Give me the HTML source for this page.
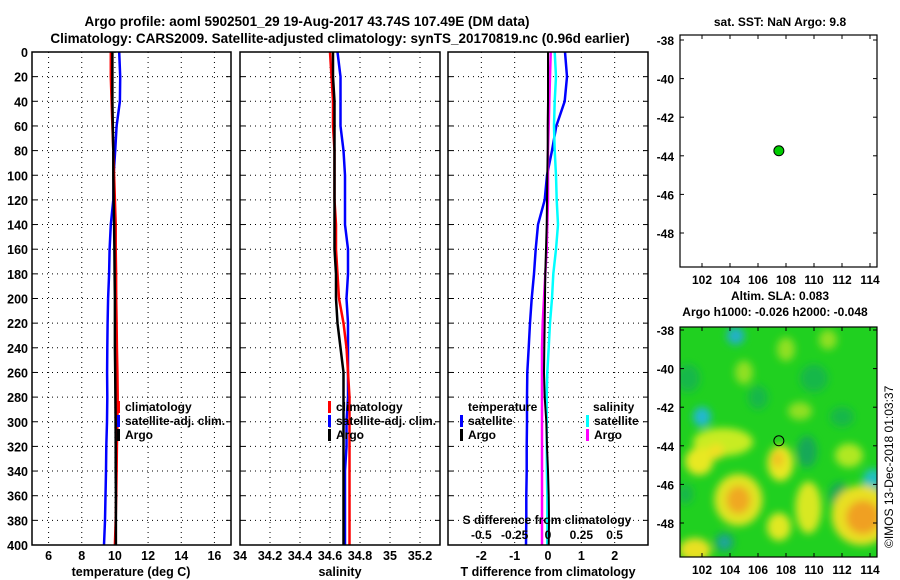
<!DOCTYPE html>
<html><head><meta charset="utf-8">
<style>
body{margin:0;background:#fff;}
svg{display:block;font-family:"Liberation Sans",sans-serif;font-weight:bold;}
</style></head>
<body>
<svg id="c" width="900" height="580" viewBox="0 0 900 580">
<text x="307" y="26" font-size="13.5" text-anchor="middle">Argo profile: aoml 5902501_29 19-Aug-2017 43.74S 107.49E (DM data)</text>
<text x="340" y="43" font-size="13.5" text-anchor="middle">Climatology: CARS2009. Satellite-adjusted climatology: synTS_20170819.nc (0.96d earlier)</text>
<text x="131" y="576" font-size="12.5" text-anchor="middle">temperature (deg C)</text>
<text x="340" y="576" font-size="12.5" text-anchor="middle">salinity</text>
<text x="548" y="576" font-size="12.5" text-anchor="middle">T difference from climatology</text>
<text x="780" y="26" font-size="12" text-anchor="middle">sat. SST: NaN Argo: 9.8</text>
<text x="780" y="300" font-size="12" text-anchor="middle">Altim. SLA: 0.083</text>
<text x="775" y="316" font-size="12" text-anchor="middle">Argo h1000: -0.026 h2000: -0.048</text>
<text transform="translate(893,548) rotate(-90)" font-size="12" font-weight="normal">©IMOS 13-Dec-2018 01:03:37</text>
</svg>
<script>
const depths=[0,20,40,60,80,100,120,140,160,180,200,220,240,260,280,300,320,340,360,380,400];
const tempArgo=[9.85,9.85,9.85,9.87,9.9,9.9,9.92,9.95,9.97,9.98,10.0,10.0,10.0,10.02,10.03,10.04,10.05,10.05,10.06,10.06,10.06];
const tempClim=[9.75,9.75,9.8,9.85,9.9,9.95,10.0,10.05,10.05,10.07,10.08,10.1,10.12,10.15,10.17,10.15,10.12,10.1,10.08,10.05,10.0];
const tempSat=[10.26,10.32,10.3,10.1,10.02,9.92,9.9,9.75,9.68,9.65,9.59,9.56,9.54,9.53,9.54,9.52,9.48,9.46,9.43,9.40,9.34];
const salArgo=[34.62,34.62,34.63,34.63,34.63,34.63,34.63,34.63,34.63,34.64,34.64,34.65,34.67,34.69,34.69,34.69,34.69,34.69,34.69,34.69,34.69];
const salClim=[34.60,34.61,34.62,34.62,34.63,34.63,34.63,34.64,34.64,34.65,34.66,34.69,34.71,34.72,34.73,34.73,34.73,34.73,34.73,34.73,34.73];
const salSat=[34.65,34.67,34.67,34.67,34.69,34.70,34.70,34.70,34.72,34.72,34.71,34.72,34.72,34.72,34.72,34.71,34.71,34.70,34.70,34.70,34.70];
const tDiffSat=[0.51,0.57,0.50,0.25,0.12,-0.03,-0.10,-0.30,-0.37,-0.42,-0.49,-0.54,-0.58,-0.62,-0.63,-0.63,-0.64,-0.64,-0.65,-0.65,-0.66];
const tDiffArgo=[0,0,0,-0.01,-0.01,-0.02,-0.03,-0.04,-0.06,-0.08,-0.09,-0.1,-0.11,-0.12,-0.1,-0.05,-0.03,0.0,0.02,0.03,0.02];
const sDiffSat=[0.05,0.06,0.05,0.045,0.05,0.06,0.065,0.075,0.06,0.04,0.03,0.015,0.005,-0.005,-0.01,-0.01,-0.01,-0.008,-0.005,-0.005,-0.005];
const sDiffArgo=[0.02,0.015,0.01,0.005,0,0,0,-0.005,-0.01,-0.02,-0.03,-0.04,-0.045,-0.045,-0.045,-0.045,-0.045,-0.045,-0.045,-0.045,-0.045];
const depthTicks=[0,20,40,60,80,100,120,140,160,180,200,220,240,260,280,300,320,340,360,380,400];
const tempTicks=[6,8,10,12,14,16];
const salTicks=[34,34.2,34.4,34.6,34.8,35,35.2];
const salTickLabels=["34","34.2","34.4","34.6","34.8","35","35.2"];
const tdTicks=[-2,-1,0,1,2];
const sdTicks=[-0.5,-0.25,0,0.25,0.5];
const latTicks=[-38,-40,-42,-44,-46,-48];
const lonTicks=[102,104,106,108,110,112,114];
const argoLon=107.49, argoLat=-43.74;

const S=document.getElementById('c');
const NS='http://www.w3.org/2000/svg';
function mk(tag,attrs,parent){const e=document.createElementNS(NS,tag);for(const k in attrs)e.setAttribute(k,attrs[k]);(parent||S).appendChild(e);return e;}
const Y0=52,Y1=545;
const yD=d=>Y0+d*(Y1-Y0)/400;
const panels=[
 {x0:32,x1:231,min:5,max:17,name:'temperature-panel'},
 {x0:240,x1:440,min:34,max:35.3333,name:'salinity-panel'},
 {x0:448,x1:648,min:-3,max:3,name:'difference-panel'}];
panels.forEach(p=>{p.sx=v=>p.x0+(v-p.min)*(p.x1-p.x0)/(p.max-p.min);});
const sdScale=v=>548+v*133.3;

panels.forEach((p,i)=>{
  const g=mk('g',{});
  
  
  depthTicks.forEach(d=>{ if(d>0&&d<400) mk('line',{x1:p.x0,x2:p.x1,y1:yD(d),y2:yD(d),stroke:'#000','stroke-width':1,'stroke-dasharray':'1,4'},g);
    mk('line',{x1:p.x0,x2:p.x0+5,y1:yD(d),y2:yD(d),stroke:'#000'},g);
    mk('line',{x1:p.x1-5,x2:p.x1,y1:yD(d),y2:yD(d),stroke:'#000'},g);});
  const tk=i==0?tempTicks:i==1?salTicks:tdTicks;
  tk.forEach(v=>{const x=p.sx(v); if(x>p.x0+2&&x<p.x1-2) mk('line',{x1:x,x2:x,y1:Y0,y2:Y1,stroke:'#000','stroke-dasharray':'1,4'},g);});
});
depthTicks.forEach(d=>{const t=mk('text',{x:28,y:yD(d)+5,'font-size':12.5,'text-anchor':'end'});t.textContent=d;

});
tempTicks.forEach(v=>{const t=mk('text',{x:panels[0].sx(v),y:560,'font-size':12.5,'text-anchor':'middle'});t.textContent=v;

});
salTicks.forEach((v,i)=>{const t=mk('text',{x:panels[1].sx(v),y:560,'font-size':12.5,'text-anchor':'middle'});t.textContent=salTickLabels[i];

});
tdTicks.forEach(v=>{const t=mk('text',{x:panels[2].sx(v),y:560,'font-size':12.5,'text-anchor':'middle'});t.textContent=v;

});

function line(xs,sx,color,name,w){
  const pts=depths.map((d,i)=>sx(xs[i]).toFixed(1)+','+yD(d).toFixed(1)).join(' ');
  const e=mk('polyline',{points:pts,fill:'none',stroke:color,'stroke-width':w||2.5});
  
  
}
line(tempSat,panels[0].sx,'#0000ff','temp-satellite-line');
line(tempClim,panels[0].sx,'#ff0000','temp-climatology-line');
line(tempArgo,panels[0].sx,'#000','temp-argo-line');
line(salSat,panels[1].sx,'#0000ff','sal-satellite-line');
line(salClim,panels[1].sx,'#ff0000','sal-climatology-line');
line(salArgo,panels[1].sx,'#000','sal-argo-line');
line(tDiffSat,panels[2].sx,'#0000ff','tdiff-satellite-line');
line(sDiffSat,sdScale,'#00ffff','sdiff-satellite-line');
line(sDiffArgo,sdScale,'#ff00ff','sdiff-argo-line');
line(tDiffArgo,panels[2].sx,'#000','tdiff-argo-line',2);

panels.forEach(p=>{const r=mk('rect',{x:p.x0,y:Y0,width:p.x1-p.x0,height:Y1-Y0,fill:'none',stroke:'#000','stroke-width':1.5});

});

function legend(x,y,color,label,name){
  const g=mk('g',{});
  
  
  mk('rect',{x:x,y:y-10,width:3,height:12,fill:color},g);
  const t=mk('text',{x:x+8,y:y,'font-size':12},g);t.textContent=label;
}
legend(117,411,'#ff0000','climatology','legend-climatology-temp');
legend(117,425,'#0000ff','satellite-adj. clim.','legend-satellite-temp');
legend(117,439,'#000','Argo','legend-argo-temp');
legend(328,411,'#ff0000','climatology','legend-climatology-sal');
legend(328,425,'#0000ff','satellite-adj. clim.','legend-satellite-sal');
legend(328,439,'#000','Argo','legend-argo-sal');
{const t=mk('text',{x:468,y:411,'font-size':12});t.textContent='temperature';


const t2=mk('text',{x:593,y:411,'font-size':12});t2.textContent='salinity';

}
legend(460,425,'#0000ff','satellite','legend-tdiff-satellite');
legend(460,439,'#000','Argo','legend-tdiff-argo');
legend(586,425,'#00ffff','satellite','legend-sdiff-satellite');
legend(586,439,'#ff00ff','Argo','legend-sdiff-argo');
{const t=mk('text',{x:547,y:524,'font-size':12,'text-anchor':'middle'});t.textContent='S difference from climatology';

}
sdTicks.forEach(v=>{const t=mk('text',{x:sdScale(v),y:539,'font-size':12,'text-anchor':'middle'});t.textContent=v;

});

function mapPanel(top,bottom,latTop,latBot){
  const bx0=680,bx1=877;
  const lx=lon=>702+(lon-102)*14;
  const ly=lat=>latTop+(-38-lat)*(latBot-latTop)/10;
  return {bx0,bx1,lx,ly,top,bottom};
}
const m1=mapPanel(35,267,40,233);
const m2=mapPanel(327,557,330,523);

const defs=mk('defs',{});
const f=mk('filter',{id:'bl',x:'-50%',y:'-50%',width:'200%',height:'200%'},defs);
mk('feGaussianBlur',{stdDeviation:4},f);
const cp=mk('clipPath',{id:'cp'},defs);
mk('rect',{x:m2.bx0,y:m2.top,width:m2.bx1-m2.bx0,height:m2.bottom-m2.top},cp);
const hm=mk('g',{'clip-path':'url(#cp)'});


mk('rect',{x:m2.bx0,y:m2.top,width:197,height:230,fill:'#20d020'},hm);
const blobs=hm.appendChild(document.createElementNS(NS,'g'));blobs.setAttribute('filter','url(#bl)');
const B=[
 [101,-40.5,12,14,'#18b848'],[109.5,-44.3,10,16,'#14a858'],[111.8,-46.6,10,14,'#14a858'],[106,-41.5,10,12,'#18b848'],
 [110,-40.5,14,14,'#18b848'],[103.6,-49,10,10,'#14a858'],[112,-42.5,12,10,'#18b848'],[100.8,-46.5,8,10,'#18b848'],
 [104.4,-38.3,9,9,'#20b0c8'],[102,-42.5,9,10,'#20b8d0'],[114.2,-45.8,10,12,'#20c0c0'],[103.6,-49,6,6,'#20a8a0'],
 [103.5,-43.8,30,14,'#c8ec20'],[101.8,-44.8,14,14,'#e8e820'],[107.6,-44.9,13,18,'#e8e820'],[109.6,-47.2,13,26,'#d8e820'],
 [104.6,-46.8,24,26,'#e0e420'],[104.6,-46.8,12,14,'#f0a820'],[113.4,-47.6,30,30,'#e8e020'],[113.5,-47.7,17,17,'#f0a020'],
 [107.5,-48.2,12,14,'#e0e820'],[101.5,-49.4,16,12,'#e8e020'],[105,-40.2,9,12,'#90e020'],[108,-39,9,12,'#90e020'],[111,-38.5,9,10,'#90e020'],
 [109,-42.2,12,9,'#90e020'],[112.5,-44.5,14,12,'#b0e820'],[103,-44.3,8,8,'#f0e020'],[107.4,-44.7,6,8,'#f0c020']];
B.forEach(b=>mk('ellipse',{cx:m2.lx(b[0]),cy:m2.ly(b[1]),rx:b[2],ry:b[3],fill:b[4]},blobs));

[m1,m2].forEach((m,i)=>{
  const g=mk('g',{});
  
  
  mk('rect',{x:m.bx0,y:m.top,width:m.bx1-m.bx0,height:m.bottom-m.top,fill:'none',stroke:'#000','stroke-width':1.2},g);
  latTicks.forEach(l=>{const y=m.ly(l);mk('line',{x1:m.bx0,x2:m.bx0+4,y1:y,y2:y,stroke:'#000'},g);mk('line',{x1:m.bx1-4,x2:m.bx1,y1:y,y2:y,stroke:'#000'},g);
    const t=mk('text',{x:m.bx0-6,y:y+5,'font-size':12,'text-anchor':'end'},g);t.textContent=l;});
  lonTicks.forEach(l=>{const x=m.lx(l);mk('line',{x1:x,x2:x,y1:m.top,y2:m.top+4,stroke:'#000'},g);mk('line',{x1:x,x2:x,y1:m.bottom-4,y2:m.bottom,stroke:'#000'},g);
    const t=mk('text',{x:x,y:m.bottom+17,'font-size':12,'text-anchor':'middle'},g);t.textContent=l;});
});
const d1=mk('circle',{cx:m1.lx(argoLon),cy:m1.ly(argoLat),r:5,fill:'#00cc00',stroke:'#000','stroke-width':1});


const d2=mk('circle',{cx:m2.lx(argoLon),cy:m2.ly(argoLat),r:5,fill:'none',stroke:'#000','stroke-width':1});


</script>
</body></html>
